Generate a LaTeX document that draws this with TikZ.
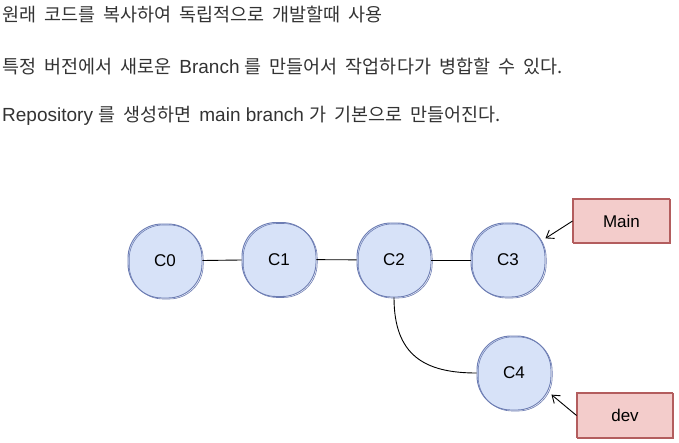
\documentclass[tikz,border=0pt]{standalone}
\usepackage{fontspec}
\setmainfont{Liberation Sans}
\newfontfamily\kr{Noto Sans CJK KR}
\usetikzlibrary{arrows.meta}
\definecolor{cfill}{HTML}{D7E2F8}
\definecolor{cline}{HTML}{6D7DB3}
\definecolor{bfill}{HTML}{F3CCCB}
\definecolor{bline}{HTML}{B35D5E}
\definecolor{tgray}{HTML}{333333}
\newcommand\K[1]{{\kr\fontsize{18.5}{22}\selectfont\spaceskip=8pt\relax #1}}
\newcommand\Lt[1]{{\fontsize{19}{22}\selectfont #1}}
\begin{document}
\begin{tikzpicture}[x=1pt,y=-1pt,
  txt/.style={anchor=base west, inner sep=0pt, text=tgray},
  commit/.style={draw=cline, fill=cfill, line width=0.9pt, rounded corners=34pt,
    minimum width=74pt, minimum height=74pt, inner sep=0pt,
    font=\fontsize{17}{20}\selectfont,
    postaction={draw=cline, line width=0.6pt, transform canvas={xshift=1.2pt,yshift=-1pt}}},
  label/.style={draw=bline, fill=bfill, line width=0.9pt, inner sep=0pt,
    font=\fontsize{17}{20}\selectfont,
    postaction={draw=bline, line width=0.5pt, transform canvas={xshift=-0.8pt,yshift=0.8pt}}},
  link/.style={draw=black, line width=0.9pt},
  ptr/.style={draw=black, line width=0.9pt, -{Straight Barb[length=7pt,width=10pt]}}
]
\useasboundingbox (0,0) rectangle (679,443);
\node[txt] (t1) at (2,22) {\K{원래 코드를 복사하여 독립적으로 개발할때 사용}};
\node[txt] (t2) at (2,74) {\K{특정 버전에서 새로운 }\Lt{Branch }\K{를 만들어서 작업하다가 병합할 수 있다.}};
\node[txt] (t3) at (2,122) {\Lt{Repository }\K{를 생성하면 }\Lt{main branch }\K{가 기본으로 만들어진다.}};

\node[commit] (c0) at (165,261) {C0};
\node[commit] (c1) at (279,259.5) {C1};
\node[commit] (c2) at (394,260) {C2};
\node[commit] (c3) at (508,260) {C3};
\node[commit] (c4) at (514,373) {C4};

\node[label, minimum width=97pt, minimum height=44pt] (main) at (621.5,221) {Main};
\node[label, minimum width=96pt, minimum height=45pt] (dev) at (625,415.5) {dev};

\draw[link] (c0) -- (c1);
\draw[link] (c1) -- (c2);
\draw[link] (c2) -- (c3);
\draw[link] (c2.south) .. controls +(0,58) and +(-52,0) .. (c4.west);
\draw[ptr] (main.west) -- (c3.30);
\draw[ptr] (dev.west) -- (c4.-30);
\end{tikzpicture}
\end{document}
